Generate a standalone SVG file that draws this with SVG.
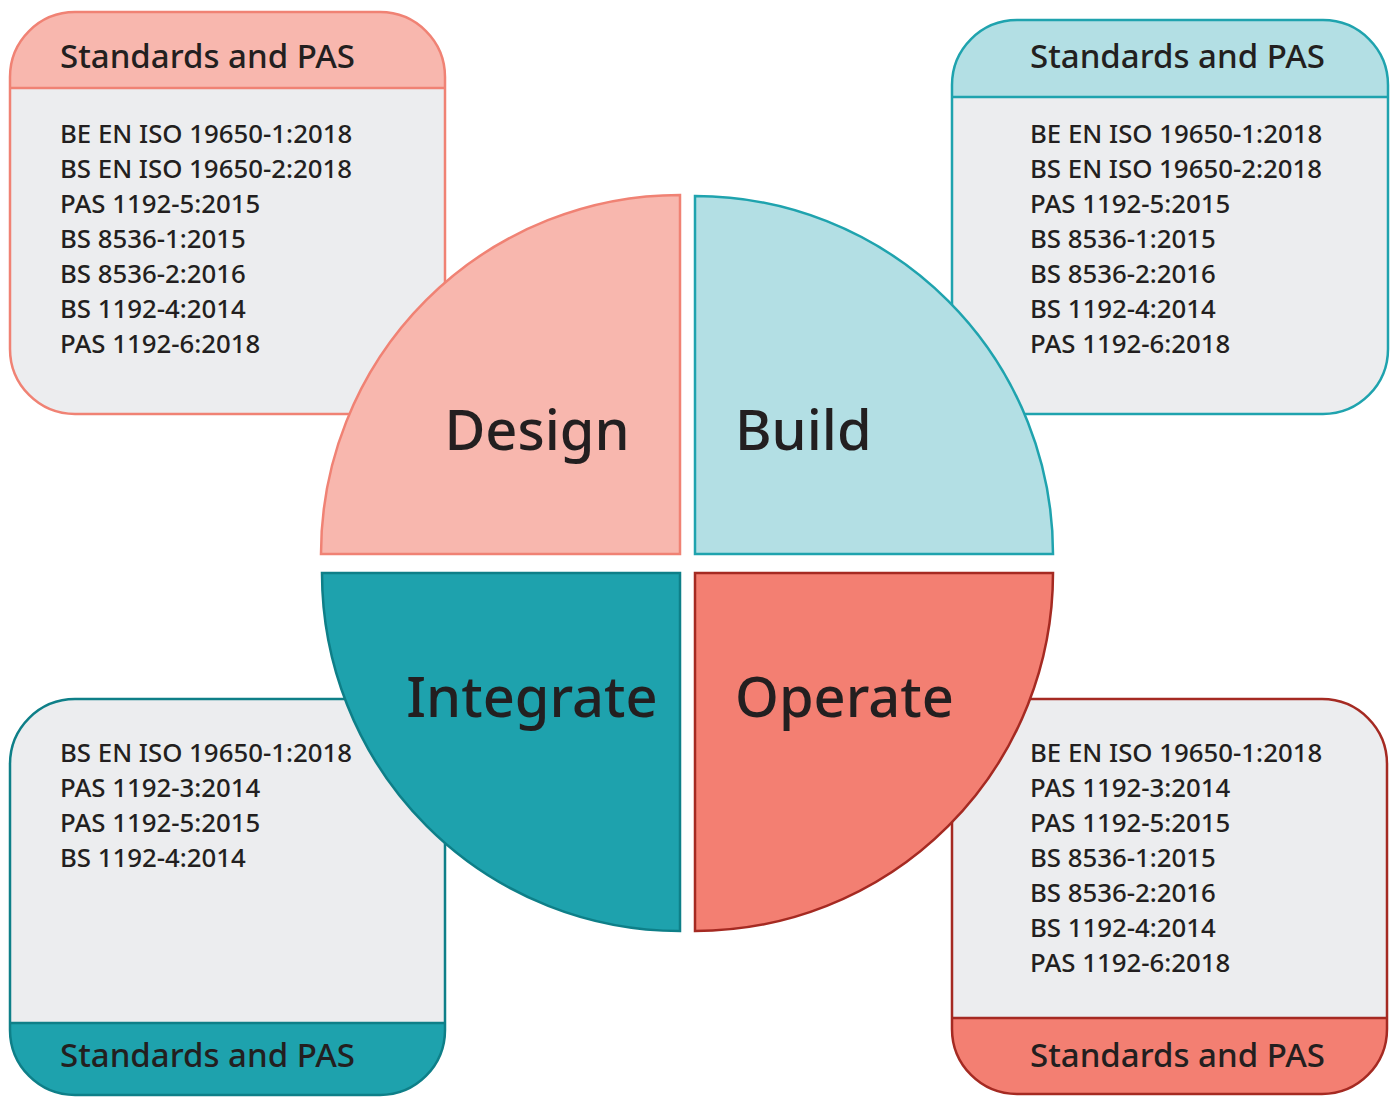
<svg xmlns="http://www.w3.org/2000/svg" width="1394" height="1097" viewBox="0 0 1394 1097">
<style>
text{font-family:"Noto Sans","Open Sans",sans-serif;fill:#231F20;font-weight:500}
.hd{font-size:33px}
.li{font-size:25.8px}
.big{font-size:56px}
.body{fill:#ECEDEF}
</style>
<rect width="1394" height="1097" fill="#FFFFFF"/>
<g id="box-design">
<path class="body" d="M10,88 H445 V349 A65,65 0 0 1 380,414 H75 A65,65 0 0 1 10,349 Z"/>
<path d="M10,88 V77 A65,65 0 0 1 75,12 H380 A65,65 0 0 1 445,77 V88 Z" fill="#F8B7AE"/>
<rect x="10" y="12" width="435" height="402" rx="65" fill="none" stroke="#F08274" stroke-width="2.5"/>
<line x1="10" y1="88" x2="445" y2="88" stroke="#F08274" stroke-width="2.5"/>
<text class="hd" x="60" y="68">Standards and PAS</text>
<text class="li" x="60" y="143">BE EN ISO 19650-1:2018</text>
<text class="li" x="60" y="178">BS EN ISO 19650-2:2018</text>
<text class="li" x="60" y="213">PAS 1192-5:2015</text>
<text class="li" x="60" y="248">BS 8536-1:2015</text>
<text class="li" x="60" y="283">BS 8536-2:2016</text>
<text class="li" x="60" y="318">BS 1192-4:2014</text>
<text class="li" x="60" y="353">PAS 1192-6:2018</text>
</g>
<g id="box-build">
<path class="body" d="M952,97 H1388 V349 A65,65 0 0 1 1323,414 H1017 A65,65 0 0 1 952,349 Z"/>
<path d="M952,97 V85 A65,65 0 0 1 1017,20 H1323 A65,65 0 0 1 1388,85 V97 Z" fill="#B3DFE4"/>
<rect x="952" y="20" width="436" height="394" rx="65" fill="none" stroke="#1FA3AE" stroke-width="2.5"/>
<line x1="952" y1="97" x2="1388" y2="97" stroke="#1FA3AE" stroke-width="2.5"/>
<text class="hd" x="1030" y="68">Standards and PAS</text>
<text class="li" x="1030" y="143">BE EN ISO 19650-1:2018</text>
<text class="li" x="1030" y="178">BS EN ISO 19650-2:2018</text>
<text class="li" x="1030" y="213">PAS 1192-5:2015</text>
<text class="li" x="1030" y="248">BS 8536-1:2015</text>
<text class="li" x="1030" y="283">BS 8536-2:2016</text>
<text class="li" x="1030" y="318">BS 1192-4:2014</text>
<text class="li" x="1030" y="353">PAS 1192-6:2018</text>
</g>
<g id="box-integrate">
<path class="body" d="M10,1023 V764 A65,65 0 0 1 75,699 H380 A65,65 0 0 1 445,764 V1023 Z"/>
<path d="M10,1023 H445 V1030 A65,65 0 0 1 380,1095 H75 A65,65 0 0 1 10,1030 Z" fill="#1EA2AD"/>
<rect x="10" y="699" width="435" height="396" rx="65" fill="none" stroke="#0E7F88" stroke-width="2.5"/>
<line x1="10" y1="1023" x2="445" y2="1023" stroke="#0E7F88" stroke-width="2.5"/>
<text class="li" x="60" y="762">BS EN ISO 19650-1:2018</text>
<text class="li" x="60" y="797">PAS 1192-3:2014</text>
<text class="li" x="60" y="832">PAS 1192-5:2015</text>
<text class="li" x="60" y="867">BS 1192-4:2014</text>
<text class="hd" x="60" y="1067">Standards and PAS</text>
</g>
<g id="box-operate">
<path class="body" d="M952,1018 V764 A65,65 0 0 1 1017,699 H1322 A65,65 0 0 1 1387,764 V1018 Z"/>
<path d="M952,1018 H1387 V1029 A65,65 0 0 1 1322,1094 H1017 A65,65 0 0 1 952,1029 Z" fill="#F37F72"/>
<rect x="952" y="699" width="435" height="395" rx="65" fill="none" stroke="#A52A22" stroke-width="2.5"/>
<line x1="952" y1="1018" x2="1387" y2="1018" stroke="#A52A22" stroke-width="2.5"/>
<text class="li" x="1030" y="762">BE EN ISO 19650-1:2018</text>
<text class="li" x="1030" y="797">PAS 1192-3:2014</text>
<text class="li" x="1030" y="832">PAS 1192-5:2015</text>
<text class="li" x="1030" y="867">BS 8536-1:2015</text>
<text class="li" x="1030" y="902">BS 8536-2:2016</text>
<text class="li" x="1030" y="937">BS 1192-4:2014</text>
<text class="li" x="1030" y="972">PAS 1192-6:2018</text>
<text class="hd" x="1030" y="1067">Standards and PAS</text>
</g>
<g id="quarter-design">
<path d="M680,554 H321 A359,359 0 0 1 680,195 Z" fill="#F8B7AE" stroke="#F08274" stroke-width="2.5"/>
<text class="big" x="537" y="450" text-anchor="middle">Design</text>
</g>
<g id="quarter-build">
<path d="M695,554 V196 A358,358 0 0 1 1053,554 Z" fill="#B3DFE4" stroke="#1FA3AE" stroke-width="2.5"/>
<text class="big" x="735" y="450">Build</text>
</g>
<g id="quarter-integrate">
<path d="M680,573 V931 A358,358 0 0 1 322,573 Z" fill="#1EA2AD" stroke="#0E7F88" stroke-width="2.5"/>
<text class="big" x="532" y="717" text-anchor="middle">Integrate</text>
</g>
<g id="quarter-operate">
<path d="M695,573 H1053 A358,358 0 0 1 695,931 Z" fill="#F37F72" stroke="#A52A22" stroke-width="2.5"/>
<text class="big" x="735" y="717">Operate</text>
</g>
<g id="connectors"></g>
</svg>
